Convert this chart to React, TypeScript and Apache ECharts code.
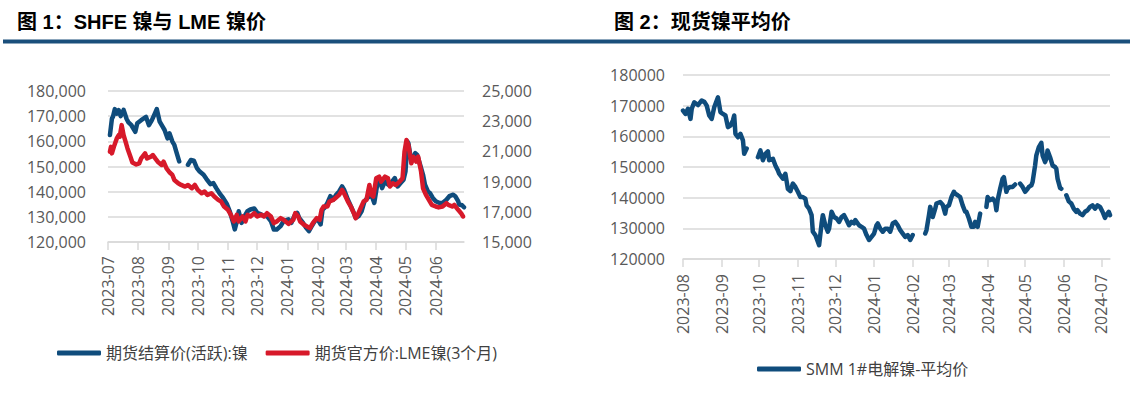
import React, { useEffect, useRef } from 'react';
import * as echarts from 'echarts';

// ---------- data ----------
const shfeName = '期货结算价(活跃):镍';
const lmeName = '期货官方价:LME镍(3个月)';
const smmName = 'SMM 1#电解镍-平均价';

const shfeData: [string, number | null][] = [
  ['2023-07-03', 162500], ['2023-07-05', 169000], ['2023-07-06', 169700], ['2023-07-08', 172800], ['2023-07-10', 171000],
  ['2023-07-12', 172400], ['2023-07-14', 170000], ['2023-07-17', 172500], ['2023-07-20', 169000], ['2023-07-22', 167500],
  ['2023-07-25', 166400], ['2023-07-29', 163800], ['2023-07-31', 167200], ['2023-08-04', 168400], ['2023-08-09', 169700],
  ['2023-08-12', 166400], ['2023-08-15', 168400], ['2023-08-18', 171000], ['2023-08-20', 172800], ['2023-08-23', 167800],
  ['2023-08-26', 165800], ['2023-08-28', 164500], ['2023-08-31', 161200], ['2023-09-02', 163200], ['2023-09-05', 159900],
  ['2023-09-07', 158600], ['2023-09-09', 155900], ['2023-09-12', 152000], ['2023-09-16', null], ['2023-09-21', 150700],
  ['2023-09-24', 152600], ['2023-09-27', 152300], ['2023-09-30', 149500], ['2023-10-03', 148000], ['2023-10-07', 146700],
  ['2023-10-10', 145000], ['2023-10-14', 143000], ['2023-10-17', 143400], ['2023-10-20', 141400], ['2023-10-24', 139000],
  ['2023-10-27', 137500], ['2023-10-31', 135000], ['2023-11-03', 132000], ['2023-11-06', 128000], ['2023-11-08', 125000],
  ['2023-11-11', 129600], ['2023-11-12', 132200], ['2023-11-15', 127600], ['2023-11-18', 130300], ['2023-11-21', 132200],
  ['2023-11-24', 132900], ['2023-11-28', 133300], ['2023-12-01', 131600], ['2023-12-05', 131000], ['2023-12-08', 130300],
  ['2023-12-11', 130300], ['2023-12-15', 128300], ['2023-12-18', 125000], ['2023-12-21', 125000], ['2023-12-25', 126300],
  ['2023-12-28', 128300], ['2024-01-02', 129000], ['2024-01-05', 127600], ['2024-01-08', 130300], ['2024-01-11', 131600],
  ['2024-01-13', 129600], ['2024-01-17', 127600], ['2024-01-20', 125700], ['2024-01-23', 124300], ['2024-01-25', 125700],
  ['2024-01-29', 128300], ['2024-02-01', 129000], ['2024-02-04', 127000], ['2024-02-06', 132900], ['2024-02-08', 133600],
  ['2024-02-11', 135500], ['2024-02-14', 138200], ['2024-02-17', 136800], ['2024-02-20', 138800], ['2024-02-23', 140100],
  ['2024-02-26', 142100], ['2024-02-28', 140800], ['2024-03-03', 136800], ['2024-03-06', 134200], ['2024-03-09', 131600],
  ['2024-03-11', 129600], ['2024-03-14', 130300], ['2024-03-17', 132200], ['2024-03-20', 136200], ['2024-03-23', 137500],
  ['2024-03-27', 138800], ['2024-03-30', 135500], ['2024-04-02', 142800], ['2024-04-04', 145400], ['2024-04-07', 141400],
  ['2024-04-10', 144100], ['2024-04-13', 142800], ['2024-04-16', 143400], ['2024-04-20', 145400], ['2024-04-23', 142100],
  ['2024-04-26', 143400], ['2024-04-29', 144700], ['2024-05-01', 148000], ['2024-05-03', 159900], ['2024-05-04', 159200],
  ['2024-05-07', 152000], ['2024-05-09', 153300], ['2024-05-11', 155300], ['2024-05-13', 154600], ['2024-05-16', 150700],
  ['2024-05-19', 146700], ['2024-05-21', 142800], ['2024-05-24', 140100], ['2024-05-26', 139500], ['2024-05-29', 137500],
  ['2024-06-01', 136200], ['2024-06-05', 135500], ['2024-06-08', 135500], ['2024-06-12', 136800], ['2024-06-15', 138200],
  ['2024-06-19', 138800], ['2024-06-21', 138200], ['2024-06-24', 136200], ['2024-06-25', 134900], ['2024-06-28', 134600],
  ['2024-06-30', 133800],
];

const lmeData: [string, number | null][] = [
  ['2023-07-03', 20980], ['2023-07-04', 21300], ['2023-07-05', 20870], ['2023-07-07', 21300], ['2023-07-10', 21860],
  ['2023-07-12', 22080], ['2023-07-13', 21970], ['2023-07-15', 22740], ['2023-07-17', 22080], ['2023-07-19', 21640],
  ['2023-07-21', 21200], ['2023-07-24', 20650], ['2023-07-26', 20270], ['2023-07-30', 20140], ['2023-08-02', 20210],
  ['2023-08-04', 20540], ['2023-08-08', 20870], ['2023-08-10', 20540], ['2023-08-14', 20650], ['2023-08-16', 20760],
  ['2023-08-19', 20490], ['2023-08-21', 20320], ['2023-08-25', 20100], ['2023-08-27', 20320], ['2023-08-30', 19880],
  ['2023-09-02', 19620], ['2023-09-05', 19440], ['2023-09-07', 19110], ['2023-09-11', 18890], ['2023-09-14', 18780],
  ['2023-09-18', 18670], ['2023-09-21', 18780], ['2023-09-25', 18560], ['2023-09-28', 18780], ['2023-10-01', 18450],
  ['2023-10-05', 18230], ['2023-10-08', 18340], ['2023-10-11', 18120], ['2023-10-15', 18230], ['2023-10-18', 18010],
  ['2023-10-22', 17790], ['2023-10-25', 17680], ['2023-10-28', 17350], ['2023-11-01', 17130], ['2023-11-04', 16800],
  ['2023-11-07', 16360], ['2023-11-10', 16800], ['2023-11-12', 16360], ['2023-11-16', 16690], ['2023-11-19', 16360],
  ['2023-11-21', 16800], ['2023-11-24', 16690], ['2023-11-28', 16910], ['2023-12-01', 16690], ['2023-12-05', 16800],
  ['2023-12-08', 16690], ['2023-12-11', 16910], ['2023-12-15', 16690], ['2023-12-18', 16250], ['2023-12-21', 16360],
  ['2023-12-25', 16580], ['2023-12-28', 16470], ['2024-01-02', 16200], ['2024-01-03', 16250], ['2024-01-07', 16470],
  ['2024-01-09', 16910], ['2024-01-12', 16690], ['2024-01-14', 16360], ['2024-01-18', 16140], ['2024-01-21', 16030],
  ['2024-01-24', 15920], ['2024-01-27', 16250], ['2024-01-31', 16580], ['2024-02-03', 16470], ['2024-02-05', 17130],
  ['2024-02-07', 17350], ['2024-02-11', 17350], ['2024-02-13', 17680], ['2024-02-17', 17790], ['2024-02-19', 17900],
  ['2024-02-23', 18120], ['2024-02-26', 18450], ['2024-02-28', 18230], ['2024-03-03', 17680], ['2024-03-06', 17350],
  ['2024-03-09', 16910], ['2024-03-11', 16580], ['2024-03-13', 16800], ['2024-03-16', 17240], ['2024-03-19', 17680],
  ['2024-03-22', 17790], ['2024-03-25', 18780], ['2024-03-27', 18120], ['2024-03-29', 18010], ['2024-04-01', 19220],
  ['2024-04-04', 19330], ['2024-04-06', 19000], ['2024-04-10', 19330], ['2024-04-13', 19220], ['2024-04-15', 18670],
  ['2024-04-18', 18890], ['2024-04-21', 18780], ['2024-04-25', 19000], ['2024-04-28', 19220], ['2024-04-30', 20980],
  ['2024-05-02', 21750], ['2024-05-04', 21420], ['2024-05-07', 20210], ['2024-05-09', 20650], ['2024-05-12', 20320],
  ['2024-05-14', 20650], ['2024-05-17', 19660], ['2024-05-19', 18560], ['2024-05-22', 18120], ['2024-05-25', 17790],
  ['2024-05-28', 17460], ['2024-06-01', 17350], ['2024-06-04', 17290], ['2024-06-08', 17350], ['2024-06-12', 17570],
  ['2024-06-14', 17460], ['2024-06-18', 17350], ['2024-06-20', 17460], ['2024-06-24', 17130], ['2024-06-27', 16910],
  ['2024-06-29', 16690],
];

const smmData: [string, number | null][] = [
  ['2023-08-01', 168400], ['2023-08-03', 167300], ['2023-08-05', 169000], ['2023-08-07', 165700], ['2023-08-08', 169000],
  ['2023-08-10', 171100], ['2023-08-13', 170200], ['2023-08-16', 171700], ['2023-08-18', 171300], ['2023-08-20', 170000],
  ['2023-08-22', 166800], ['2023-08-24', 165700], ['2023-08-26', 169500], ['2023-08-29', 172700], ['2023-08-31', 167900],
  ['2023-09-02', 167300], ['2023-09-04', 166800], ['2023-09-06', 163000], ['2023-09-08', 163500], ['2023-09-10', 165200],
  ['2023-09-11', 166800], ['2023-09-12', 160800], ['2023-09-14', 159700], ['2023-09-16', 160800], ['2023-09-18', 158700],
  ['2023-09-19', 154300], ['2023-09-21', 156000], ['2023-09-26', null], ['2023-09-30', 153200], ['2023-10-02', 155400],
  ['2023-10-04', 152200], ['2023-10-06', 154300], ['2023-10-08', 155100], ['2023-10-09', 152200], ['2023-10-12', 152700],
  ['2023-10-14', 150500], ['2023-10-16', 148900], ['2023-10-17', 147800], ['2023-10-20', 146200], ['2023-10-22', 147800],
  ['2023-10-24', 142900], ['2023-10-26', 142100], ['2023-10-28', 144600], ['2023-10-30', 143500], ['2023-11-01', 141900],
  ['2023-11-03', 140200], ['2023-11-05', 140200], ['2023-11-07', 139700], ['2023-11-08', 137500], ['2023-11-10', 136400],
  ['2023-11-12', 134300], ['2023-11-13', 128900], ['2023-11-15', 127800], ['2023-11-17', 125600], ['2023-11-18', 124500],
  ['2023-11-20', 131600], ['2023-11-21', 134300], ['2023-11-23', 131000], ['2023-11-25', 128900], ['2023-11-26', 129900],
  ['2023-11-28', 135400], ['2023-11-30', 133700], ['2023-12-02', 133200], ['2023-12-04', 132100], ['2023-12-06', 133700],
  ['2023-12-08', 134300], ['2023-12-10', 132700], ['2023-12-12', 131000], ['2023-12-14', 132100], ['2023-12-16', 131600],
  ['2023-12-17', 132700], ['2023-12-20', 131000], ['2023-12-22', 130500], ['2023-12-24', 129900], ['2023-12-26', 127800],
  ['2023-12-28', 126200], ['2023-12-30', 127200], ['2024-01-01', 128300], ['2024-01-03', 131000], ['2024-01-04', 131600],
  ['2024-01-06', 129900], ['2024-01-08', 128900], ['2024-01-10', 129900], ['2024-01-12', 129900], ['2024-01-14', 128900],
  ['2024-01-16', 131600], ['2024-01-18', 132100], ['2024-01-20', 131000], ['2024-01-22', 129400], ['2024-01-24', 128300],
  ['2024-01-26', 127200], ['2024-01-28', 127800], ['2024-01-30', 126200], ['2024-02-01', 127800], ['2024-02-07', null],
  ['2024-02-11', 128300], ['2024-02-12', 129400], ['2024-02-14', 134300], ['2024-02-15', 137000], ['2024-02-17', 133700],
  ['2024-02-19', 136400], ['2024-02-20', 138100], ['2024-02-23', 138600], ['2024-02-25', 137700], ['2024-02-27', 134800],
  ['2024-02-28', 137000], ['2024-03-01', 137500], ['2024-03-03', 140200], ['2024-03-05', 141900], ['2024-03-06', 141300],
  ['2024-03-08', 140800], ['2024-03-10', 140200], ['2024-03-12', 137500], ['2024-03-14', 135400], ['2024-03-15', 135400],
  ['2024-03-17', 133200], ['2024-03-19', 130500], ['2024-03-21', 130500], ['2024-03-22', 132100], ['2024-03-24', 130500],
  ['2024-03-26', 134800], ['2024-03-29', null], ['2024-03-31', 137000], ['2024-04-01', 140200], ['2024-04-03', 139200],
  ['2024-04-05', 139700], ['2024-04-07', 138600], ['2024-04-08', 135900], ['2024-04-09', 139200], ['2024-04-11', 142900],
  ['2024-04-13', 146200], ['2024-04-14', 146700], ['2024-04-16', 141900], ['2024-04-17', 142900], ['2024-04-19', 143500],
  ['2024-04-21', 143500], ['2024-04-23', 144300], ['2024-04-25', null], ['2024-04-27', 144600], ['2024-04-29', 143500],
  ['2024-05-01', 141900], ['2024-05-03', 142900], ['2024-05-04', 143500], ['2024-05-06', 144000], ['2024-05-07', 145100],
  ['2024-05-09', 150500], ['2024-05-10', 153800], ['2024-05-12', 156500], ['2024-05-14', 157900], ['2024-05-15', 153800],
  ['2024-05-17', 151600], ['2024-05-18', 152700], ['2024-05-19', 155400], ['2024-05-21', 153200], ['2024-05-23', 150500],
  ['2024-05-25', 150000], ['2024-05-26', 149400], ['2024-05-27', 146200], ['2024-05-29', 143200], ['2024-05-30', 142900],
  ['2024-06-01', null], ['2024-06-03', 140800], ['2024-06-05', 138800], ['2024-06-07', 138100], ['2024-06-09', 136400],
  ['2024-06-11', 135400], ['2024-06-12', 135900], ['2024-06-14', 134800], ['2024-06-16', 134300], ['2024-06-18', 135400],
  ['2024-06-20', 135900], ['2024-06-22', 137000], ['2024-06-24', 137500], ['2024-06-26', 136400], ['2024-06-28', 137500],
  ['2024-06-30', 137000], ['2024-07-02', 135400], ['2024-07-04', 133400], ['2024-07-05', 134300], ['2024-07-07', 135400],
  ['2024-07-08', 134300],
];

const leftRange = ['2023-07-01', '2024-06-30'];
const rightRange = ['2023-08-01', '2024-07-08'];

// ---------- styling ----------
const BLUE = '#0f4c7c';
const RED = '#d7192a';
const GRID = '#d9d9d9';
const AXIS_TEXT = '#595959';
const FONT = "'Open Sans', 'Noto Sans CJK SC', sans-serif";
const TITLE_FONT = "bold 20px 'Liberation Sans', 'Noto Sans CJK SC', sans-serif";
const DAY = 86400000;

function ts(s: string): number {
  const [y, m, d] = s.split('-').map(Number);
  return new Date(y, m - 1, d).getTime();
}
const toSeries = (arr: [string, number | null][]) => arr.map(([d, v]) => [ts(d), v === null ? '-' : v]);
const commas = (v: number) => v.toLocaleString('en-US');

function timeAxis(gridIndex: number, range: string[], margin: number) {
  return {
    type: 'time',
    gridIndex,
    min: ts(range[0]),
    max: ts(range[1]),
    splitNumber: 12,
    minInterval: 28 * DAY,
    maxInterval: 31 * DAY,
    axisLine: { show: true, lineStyle: { color: GRID, width: 1.5 } },
    axisTick: { show: true, length: 8, lineStyle: { color: GRID, width: 1.5 } },
    splitLine: { show: false },
    axisLabel: {
      rotate: 90,
      margin,
      fontSize: 16,
      color: AXIS_TEXT,
      fontFamily: FONT,
      hideOverlap: false,
      formatter: '{yyyy}-{MM}',
    },
  };
}

export default function App() {
  const ref = useRef<HTMLDivElement>(null);
  useEffect(() => {
    const chart = echarts.init(ref.current!, null, { renderer: 'svg' });
    const lineCommon = {
      type: 'line',
      showSymbol: false,
      symbol: 'none',
      connectNulls: false,
      animation: false,
    };
    chart.setOption({
      animation: false,
      grid: [
        { left: 108, top: 91, width: 356, height: 151 },
        { left: 683, top: 75, width: 427, height: 184 },
      ],
      xAxis: [timeAxis(0, leftRange, 14), timeAxis(1, rightRange, 15)],
      yAxis: [
        {
          type: 'value', gridIndex: 0, position: 'left', min: 120000, max: 180000, interval: 10000,
          axisLine: { show: false }, axisTick: { show: false },
          splitLine: { show: true, lineStyle: { color: GRID, width: 1.5 } },
          axisLabel: { fontSize: 16, color: AXIS_TEXT, fontFamily: FONT, margin: 22, formatter: commas },
        },
        {
          type: 'value', gridIndex: 0, position: 'right', min: 15000, max: 25000, interval: 2000,
          axisLine: { show: false }, axisTick: { show: false }, splitLine: { show: false },
          axisLabel: { fontSize: 16, color: AXIS_TEXT, fontFamily: FONT, margin: 18, formatter: commas },
        },
        {
          type: 'value', gridIndex: 1, position: 'left', min: 120000, max: 180000, interval: 10000,
          axisLine: { show: false }, axisTick: { show: false },
          splitLine: { show: true, lineStyle: { color: GRID, width: 1.5 } },
          axisLabel: { fontSize: 16, color: AXIS_TEXT, fontFamily: FONT, margin: 18, formatter: (v: number) => String(v) },
        },
      ],
      legend: [
        {
          data: [shfeName, lmeName], left: 57, top: 345, padding: 0, itemWidth: 44, itemHeight: 5, itemGap: 18,
          icon: 'roundRect', textStyle: { fontSize: 16, color: '#404040', fontFamily: FONT },
        },
        {
          data: [smmName], left: 757, top: 361, padding: 0, itemWidth: 44, itemHeight: 5,
          icon: 'roundRect', textStyle: { fontSize: 16, color: '#404040', fontFamily: FONT },
        },
      ],
      series: [
        {
          ...lineCommon, name: shfeName, xAxisIndex: 0, yAxisIndex: 0, data: toSeries(shfeData), z: 2,
          itemStyle: { color: BLUE }, lineStyle: { color: BLUE, width: 4.5, cap: 'round', join: 'round' },
        },
        {
          ...lineCommon, name: lmeName, xAxisIndex: 0, yAxisIndex: 1, data: toSeries(lmeData), z: 3,
          itemStyle: { color: RED }, lineStyle: { color: RED, width: 4.5, cap: 'round', join: 'round' },
        },
        {
          ...lineCommon, name: smmName, xAxisIndex: 1, yAxisIndex: 2, data: toSeries(smmData), z: 2,
          itemStyle: { color: BLUE }, lineStyle: { color: BLUE, width: 4.5, cap: 'round', join: 'round' },
        },
      ],
      graphic: [
        { type: 'text', x: 17, y: 22, style: { text: '图 1：SHFE 镍与 LME 镍价', font: TITLE_FONT, fill: '#000', verticalAlign: 'middle' } },
        { type: 'text', x: 614, y: 22, style: { text: '图 2：现货镍平均价', font: TITLE_FONT, fill: '#000', verticalAlign: 'middle' } },
        { type: 'rect', shape: { x: 3, y: 39.5, width: 1127, height: 4 }, style: { fill: '#1a4f7b' } },
      ],
    });
    return () => chart.dispose();
  }, []);
  return <div ref={ref} style={{ position: 'absolute', left: 0, top: 0, width: 1130, height: 396 }} />;
}
